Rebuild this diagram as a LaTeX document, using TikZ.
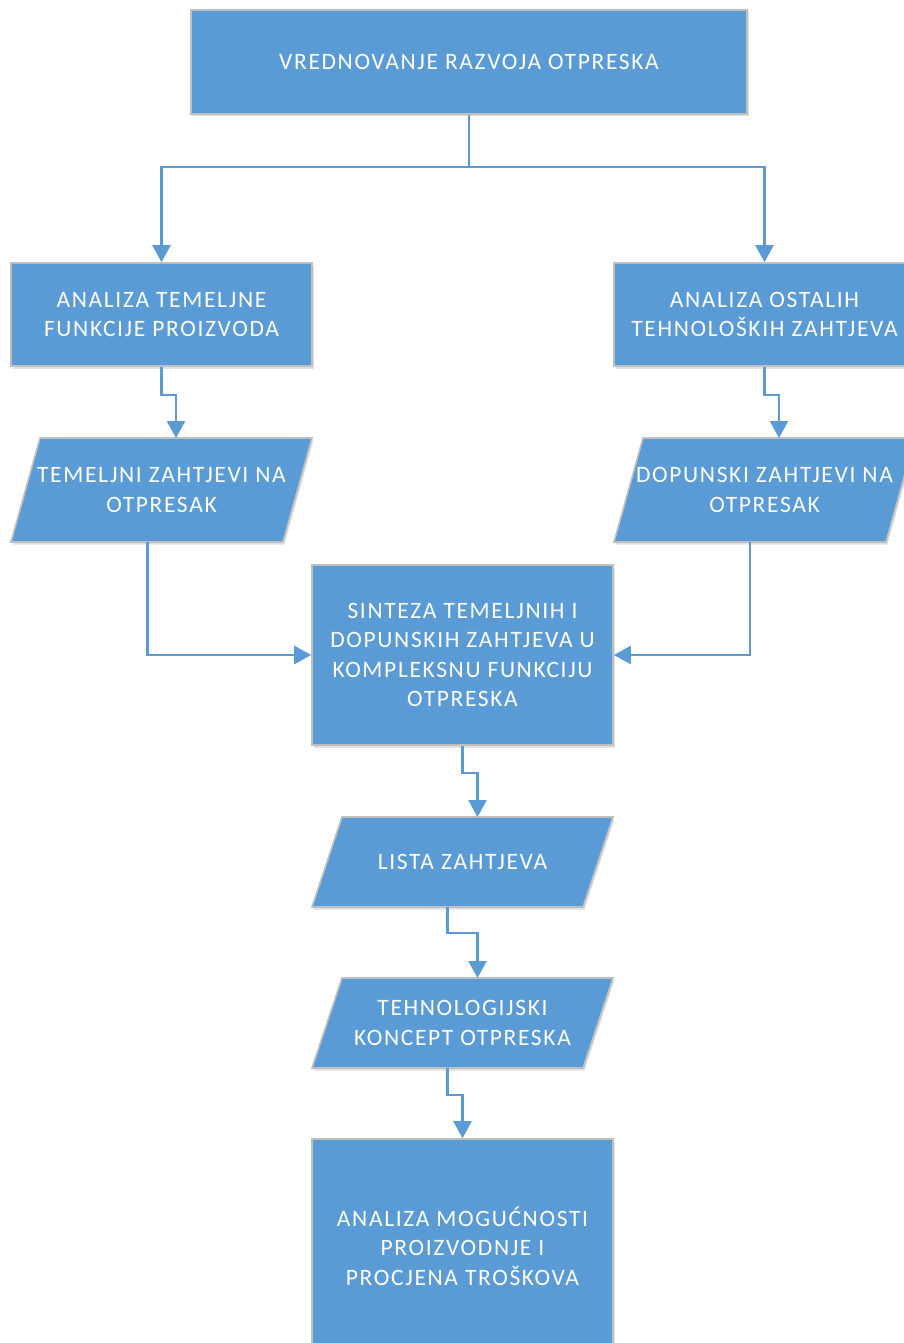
\documentclass[tikz,border=0pt]{standalone}
\usepackage{fontspec}
\newfontfamily\lblfont[LetterSpace=7]{Carlito}
\usetikzlibrary{arrows.meta,shadows}
\definecolor{boxblue}{HTML}{5B9BD5}
\definecolor{boxgray}{HTML}{BFBFBF}
\definecolor{lineblue}{HTML}{5B9BD5}
\begin{document}
\begin{tikzpicture}[x=1pt,y=-1pt,
  shapebox/.style={draw=boxgray, line width=1.6pt, fill=boxblue,
    drop shadow={shadow xshift=1.5pt, shadow yshift=-2.5pt, opacity=0.12, fill=black}},
  rectbox/.style={shapebox, rectangle, inner sep=0pt, text=white, font=\lblfont\fontsize{23.5}{29.5}\selectfont, align=center},
  lbl/.style={text=white, font=\lblfont\fontsize{23.5}{29.5}\selectfont, align=center, inner sep=0pt},
  conn/.style={draw=lineblue, line width=2.5pt, -{Triangle[width=18pt,length=17pt]}}
]
\useasboundingbox (0,0) rectangle (904,1343);
\fill[white] (0,0) rectangle (904,1343);

% rectangles
\node[rectbox, minimum width=556pt, minimum height=104pt] (top) at (469,62) {VREDNOVANJE RAZVOJA OTPRESKA};
\node[rectbox, minimum width=301pt, minimum height=103pt] (l1) at (161.5,314.5) {ANALIZA TEMELJNE\\FUNKCIJE PROIZVODA};
\node[rectbox, minimum width=301pt, minimum height=103pt] (r1) at (764.5,314.5) {ANALIZA OSTALIH\\TEHNOLOŠKIH ZAHTJEVA};
\node[rectbox, minimum width=301pt, minimum height=180pt] (sin) at (462.5,655) {SINTEZA TEMELJNIH I\\DOPUNSKIH ZAHTJEVA U\\KOMPLEKSNU FUNKCIJU\\OTPRESKA};
\node[rectbox, minimum width=301pt, minimum height=214pt] (bot) at (462.5,1246) {ANALIZA MOGUĆNOSTI\\PROIZVODNJE I\\PROCJENA TROŠKOVA};

% parallelograms
\path[shapebox] (40,438) -- (312,438) -- (283,542) -- (11,542) -- cycle;
\node[lbl] (pl) at (161.5,490) {TEMELJNI ZAHTJEVI NA\\OTPRESAK};
\coordinate (pltop) at (176,438);
\coordinate (plbot) at (147.5,542);

\path[shapebox] (643,438) -- (915,438) -- (886,542) -- (614,542) -- cycle;
\node[lbl] (pr) at (764.5,490) {DOPUNSKI ZAHTJEVI NA\\OTPRESAK};
\coordinate (prtop) at (779,438);
\coordinate (prbot) at (750,542);

\path[shapebox] (342,817) -- (613,817) -- (583,907) -- (312,907) -- cycle;
\node[lbl] (lista) at (462.5,862) {LISTA ZAHTJEVA};
\coordinate (listatop) at (477.5,817);
\coordinate (listabot) at (447.5,907);

\path[shapebox] (342,978) -- (613,978) -- (583,1068) -- (312,1068) -- cycle;
\node[lbl] (teh) at (462.5,1023) {TEHNOLOGIJSKI\\KONCEPT OTPRESKA};
\coordinate (tehtop) at (477.5,978);
\coordinate (tehbot) at (447.5,1068);

% connectors
\coordinate (split) at (469,167);
\draw[draw=lineblue, line width=2.5pt] (top.south) -- (split);
\draw[conn] (split) -| (l1.north);
\draw[conn] (split) -| (r1.north);
\draw[conn] (l1.south) |- (168,395) -| (pltop);
\draw[conn] (r1.south) |- (771,395) -| (prtop);
\draw[conn] (plbot) |- (sin.west);
\draw[conn] (prbot) |- (sin.east);
\draw[conn] (sin.south) |- (470,773) -| (listatop);
\draw[conn] (listabot) |- (460,933) -| (tehtop);
\draw[conn] (tehbot) |- (455,1095) -| (bot.north);
\end{tikzpicture}
\end{document}
